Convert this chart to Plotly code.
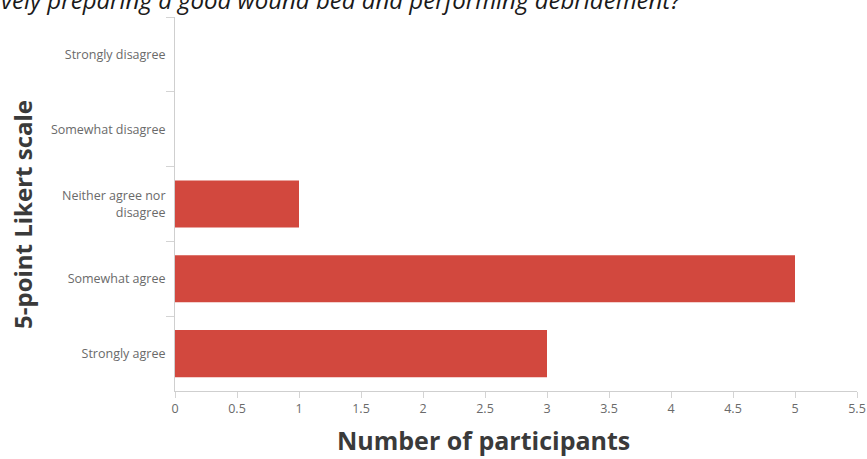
import plotly.graph_objects as go

# Likert responses, listed top to bottom
categories = [
    "Strongly disagree",
    "Somewhat disagree",
    "Neither agree nor<br>disagree",
    "Somewhat agree",
    "Strongly agree",
]
participants = [0, 0, 1, 5, 3]
x_tick_values = [0, 0.5, 1, 1.5, 2, 2.5, 3, 3.5, 4, 4.5, 5, 5.5]
x_tick_labels = ["0", "0.5", "1", "1.5", "2", "2.5", "3", "3.5", "4", "4.5", "5", "5.5"]

title_text = "vely preparing a good wound bed and performing debridement?"
x_title = "Number of participants"
y_title = "5-point Likert scale"

BAR_COLOR = "#d2483e"
TICK_FONT = dict(family="Open Sans, sans-serif", size=12.5, color="#6a6a6a")
X_TITLE_FONT = dict(family="Open Sans, sans-serif", size=25, color="#3a3a3a")
Y_TITLE_FONT = dict(family="Open Sans, sans-serif", size=24, color="#3a3a3a")

fig = go.Figure(
    go.Bar(
        x=participants,
        y=categories,
        orientation="h",
        marker=dict(color=BAR_COLOR, line=dict(width=0)),
        hoverinfo="x+y",
    )
)

fig.update_layout(
    width=867,
    height=459,
    margin=dict(l=175, r=10, t=17, b=68),
    paper_bgcolor="white",
    plot_bgcolor="white",
    bargap=0.37,
    showlegend=False,
    xaxis=dict(
        range=[0, 5.5],
        tickvals=x_tick_values,
        ticktext=x_tick_labels,
        ticks="outside",
        ticklen=6,
        tickcolor="#d4d4d4",
        tickfont=TICK_FONT,
        showgrid=False,
        zeroline=False,
        showline=True,
        linecolor="#cfcfcf",
        linewidth=1,
        automargin=False,
    ),
    yaxis=dict(
        type="category",
        categoryorder="array",
        categoryarray=categories,
        autorange="reversed",
        tickson="boundaries",
        ticks="outside",
        ticklen=8,
        tickcolor="#d4d4d4",
        tickfont=TICK_FONT,
        ticklabelstandoff=6,
        showgrid=False,
        zeroline=False,
        showline=True,
        linecolor="#cfcfcf",
        linewidth=1,
        automargin=False,
    ),
    annotations=[
        dict(
            text=title_text,
            xref="paper", yref="paper",
            x=(683 - 175) / 682, y=1 + 18 / 374,
            xanchor="right", yanchor="middle",
            showarrow=False,
            font=dict(family="Open Sans, sans-serif", size=24,
                      color="#1a1a1a", style="italic"),
        ),
        dict(
            text=f"<b>{x_title}</b>",
            xref="paper", yref="paper",
            x=(483 - 175) / 682, y=-(440 - 391) / 374,
            xanchor="center", yanchor="middle",
            showarrow=False,
            font=X_TITLE_FONT,
        ),
        dict(
            text=f"<b>{y_title}</b>",
            xref="paper", yref="paper",
            x=-(175 - 22) / 682, y=(391 - 215) / 374,
            xanchor="center", yanchor="middle",
            textangle=-90,
            showarrow=False,
            font=Y_TITLE_FONT,
        ),
    ],
)

fig.write_html("out.html")
